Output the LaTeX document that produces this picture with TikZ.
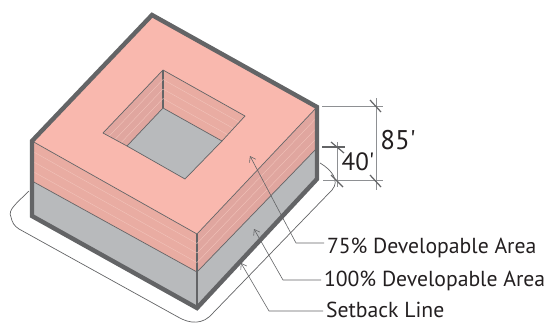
\documentclass[tikz,border=0pt]{standalone}
\usepackage{fontspec}
\setmainfont{PT Sans}
\usetikzlibrary{calc,arrows.meta}
\definecolor{slabtop}{HTML}{F9B8AE}
\definecolor{wallleft}{HTML}{E9ACA2}
\definecolor{wallright}{HTML}{E0A69F}
\definecolor{basegrey}{HTML}{B8BABC}
\definecolor{darkgrey}{HTML}{636466}
\definecolor{midgrey}{HTML}{8E9093}
\definecolor{hatchpale}{HTML}{F3C5BC}
\definecolor{inkblack}{HTML}{231F20}
\tikzset{
  edgeline/.style={draw=darkgrey,line width=0.7pt,line join=round},
  outerline/.style={draw=darkgrey,line width=4.4pt,line join=miter},
  hatchline/.style={draw=hatchpale,line width=0.35pt},
  leaderline/.style={draw=darkgrey,line width=0.6pt,-{Straight Barb[length=5pt,width=7pt]}},
  dimline/.style={draw=midgrey,line width=1pt},
  tickline/.style={draw=darkgrey,line width=1.2pt},
  callout/.style={inner sep=0pt,outer sep=3pt,anchor=west,text=inkblack,font=\fontsize{21.7}{22}\selectfont},
  dimtext/.style={inner sep=0pt,text=inkblack}
}
\begin{document}
\begin{tikzpicture}[x=1pt,y=-1pt]
  \useasboundingbox (0,0) rectangle (546,325);
  % outer block
  \coordinate (back) at (152,15);
  \coordinate (left) at (32,141);
  \coordinate (leftlow) at (32,181);
  \coordinate (leftbase) at (32,216);
  \coordinate (front) at (197,234);
  \coordinate (frontlow) at (197,272);
  \coordinate (frontbase) at (197,308);
  \coordinate (right) at (317,107);
  \coordinate (rightlow) at (317,148);
  \coordinate (rightbase) at (317,179);
  % courtyard
  \coordinate (cback) at (163,70);
  \coordinate (cleft) at (103,133);
  \coordinate (cright) at (245,116);
  \coordinate (cfloor) at (163,108);
  \coordinate (cfloorleft) at (127,146);
  \coordinate (cfloorright) at (222,141);
  \coordinate (cfloorfront) at (185,179);
  % setback line
  \draw[edgeline] (29,191) .. controls (18,202) and (7,210) .. (11,217)
    .. controls (12,222) and (14,226) .. (19,229) -- (178,317)
    .. controls (190,324) and (203,325) .. (213,313) -- (332,190)
    .. controls (340,181) and (332,170) .. (320,163);
  % faces
  \fill[basegrey] (leftlow) -- (frontlow) -- (rightlow) -- (rightbase) -- (frontbase) -- (leftbase) -- cycle;
  \fill[wallleft] (left) -- (front) -- (frontlow) -- (leftlow) -- cycle;
  \fill[wallright] (front) -- (right) -- (rightlow) -- (frontlow) -- cycle;
  \fill[slabtop] (back) -- (left) -- (front) -- (right) -- cycle;
  \fill[wallright] (cback) -- (cleft) -- (cfloorleft) -- (cfloor) -- cycle;
  \fill[wallleft] (cback) -- (cright) -- (cfloorright) -- (cfloor) -- cycle;
  \fill[basegrey] (cfloor) -- (cfloorright) -- (cfloorfront) -- (cfloorleft) -- cycle;
  % thin edges
  \draw[edgeline,line width=1.1pt] (front) -- (frontbase);
  \draw[edgeline,line width=1.4pt] (cback) -- (cfloor);
  % band hatching
  \foreach \f in {0.25,0.5,0.75} {
    \draw[hatchline] ($(left)!\f!(leftlow)$) -- ($(front)!\f!(frontlow)$) -- ($(right)!\f!(rightlow)$);
    \draw[hatchline] ($(cleft)!\f!(cfloorleft)$) -- ($(cback)!\f!(cfloor)$) -- ($(cright)!\f!(cfloorright)$);
  }
  \draw[edgeline] (left) -- (front) -- (right);
  \draw[edgeline] (leftlow) -- (frontlow) -- (rightlow);
  \draw[edgeline] (cback) -- (cleft) -- (cfloorleft) -- (cfloor) -- (cfloorright) -- (cright) -- cycle;
  \draw[edgeline] (cfloorleft) -- (cfloorfront) -- (cfloorright);
  % outline
  \draw[outerline] (back) -- (left) -- (leftbase) -- (frontbase) -- (rightbase) -- (right) -- cycle;
  % dimensions
  \coordinate (tophigh) at (322,106);
  \coordinate (topend) at (383,106);
  \coordinate (lowhigh) at (323,180);
  \coordinate (lowend) at (383,180);
  \coordinate (dimtop) at (376,98);
  \coordinate (dimbottom) at (376,190);
  \coordinate (midhigh) at (322,147);
  \coordinate (midend) at (345,147);
  \coordinate (dimmid) at (337,142);
  \coordinate (dimlow) at (337,187);
  \draw[dimline] (tophigh) -- (topend);
  \draw[dimline] (lowhigh) -- (lowend);
  \draw[dimline] (dimtop) -- (dimbottom);
  \draw[dimline] (dimmid) -- (dimlow);
  \draw[dimline,draw=darkgrey,line width=1.3pt] (midhigh) -- (midend);
  \draw[tickline] (370,100) -- (381,112);
  \draw[tickline] (370,175) -- (381,187);
  \draw[tickline] (331,142) -- (344,153);
  \draw[tickline] (331,175) -- (343,187);
  \node[dimtext,font=\fontsize{27}{28}\selectfont] (dimhigh) at (398,140) {85\textquotesingle};
  \node[dimtext,font=\fontsize{25}{26}\selectfont] (dimlowtext) at (358,162) {40\textquotesingle};
  % callouts
  \node[callout] (area75) at (324,248) {75\% Developable Area};
  \node[callout] (area100) at (321,281) {100\% Developable Area};
  \node[callout] (setback) at (323,310) {Setback Line};
  \coordinate (elbow75) at (296,243);
  \coordinate (elbow100) at (283,280);
  \coordinate (elbowback) at (269,311);
  \coordinate (tip75) at (250,156);
  \coordinate (tip100) at (254,229);
  \coordinate (tipback) at (241,263);
  \draw[leaderline] (elbow75 -| area75.west) -- (elbow75) -- (tip75);
  \draw[leaderline] (elbow100 -| area100.west) -- (elbow100) -- (tip100);
  \draw[leaderline] (elbowback -| setback.west) -- (elbowback) -- (tipback);
\end{tikzpicture}
\end{document}
